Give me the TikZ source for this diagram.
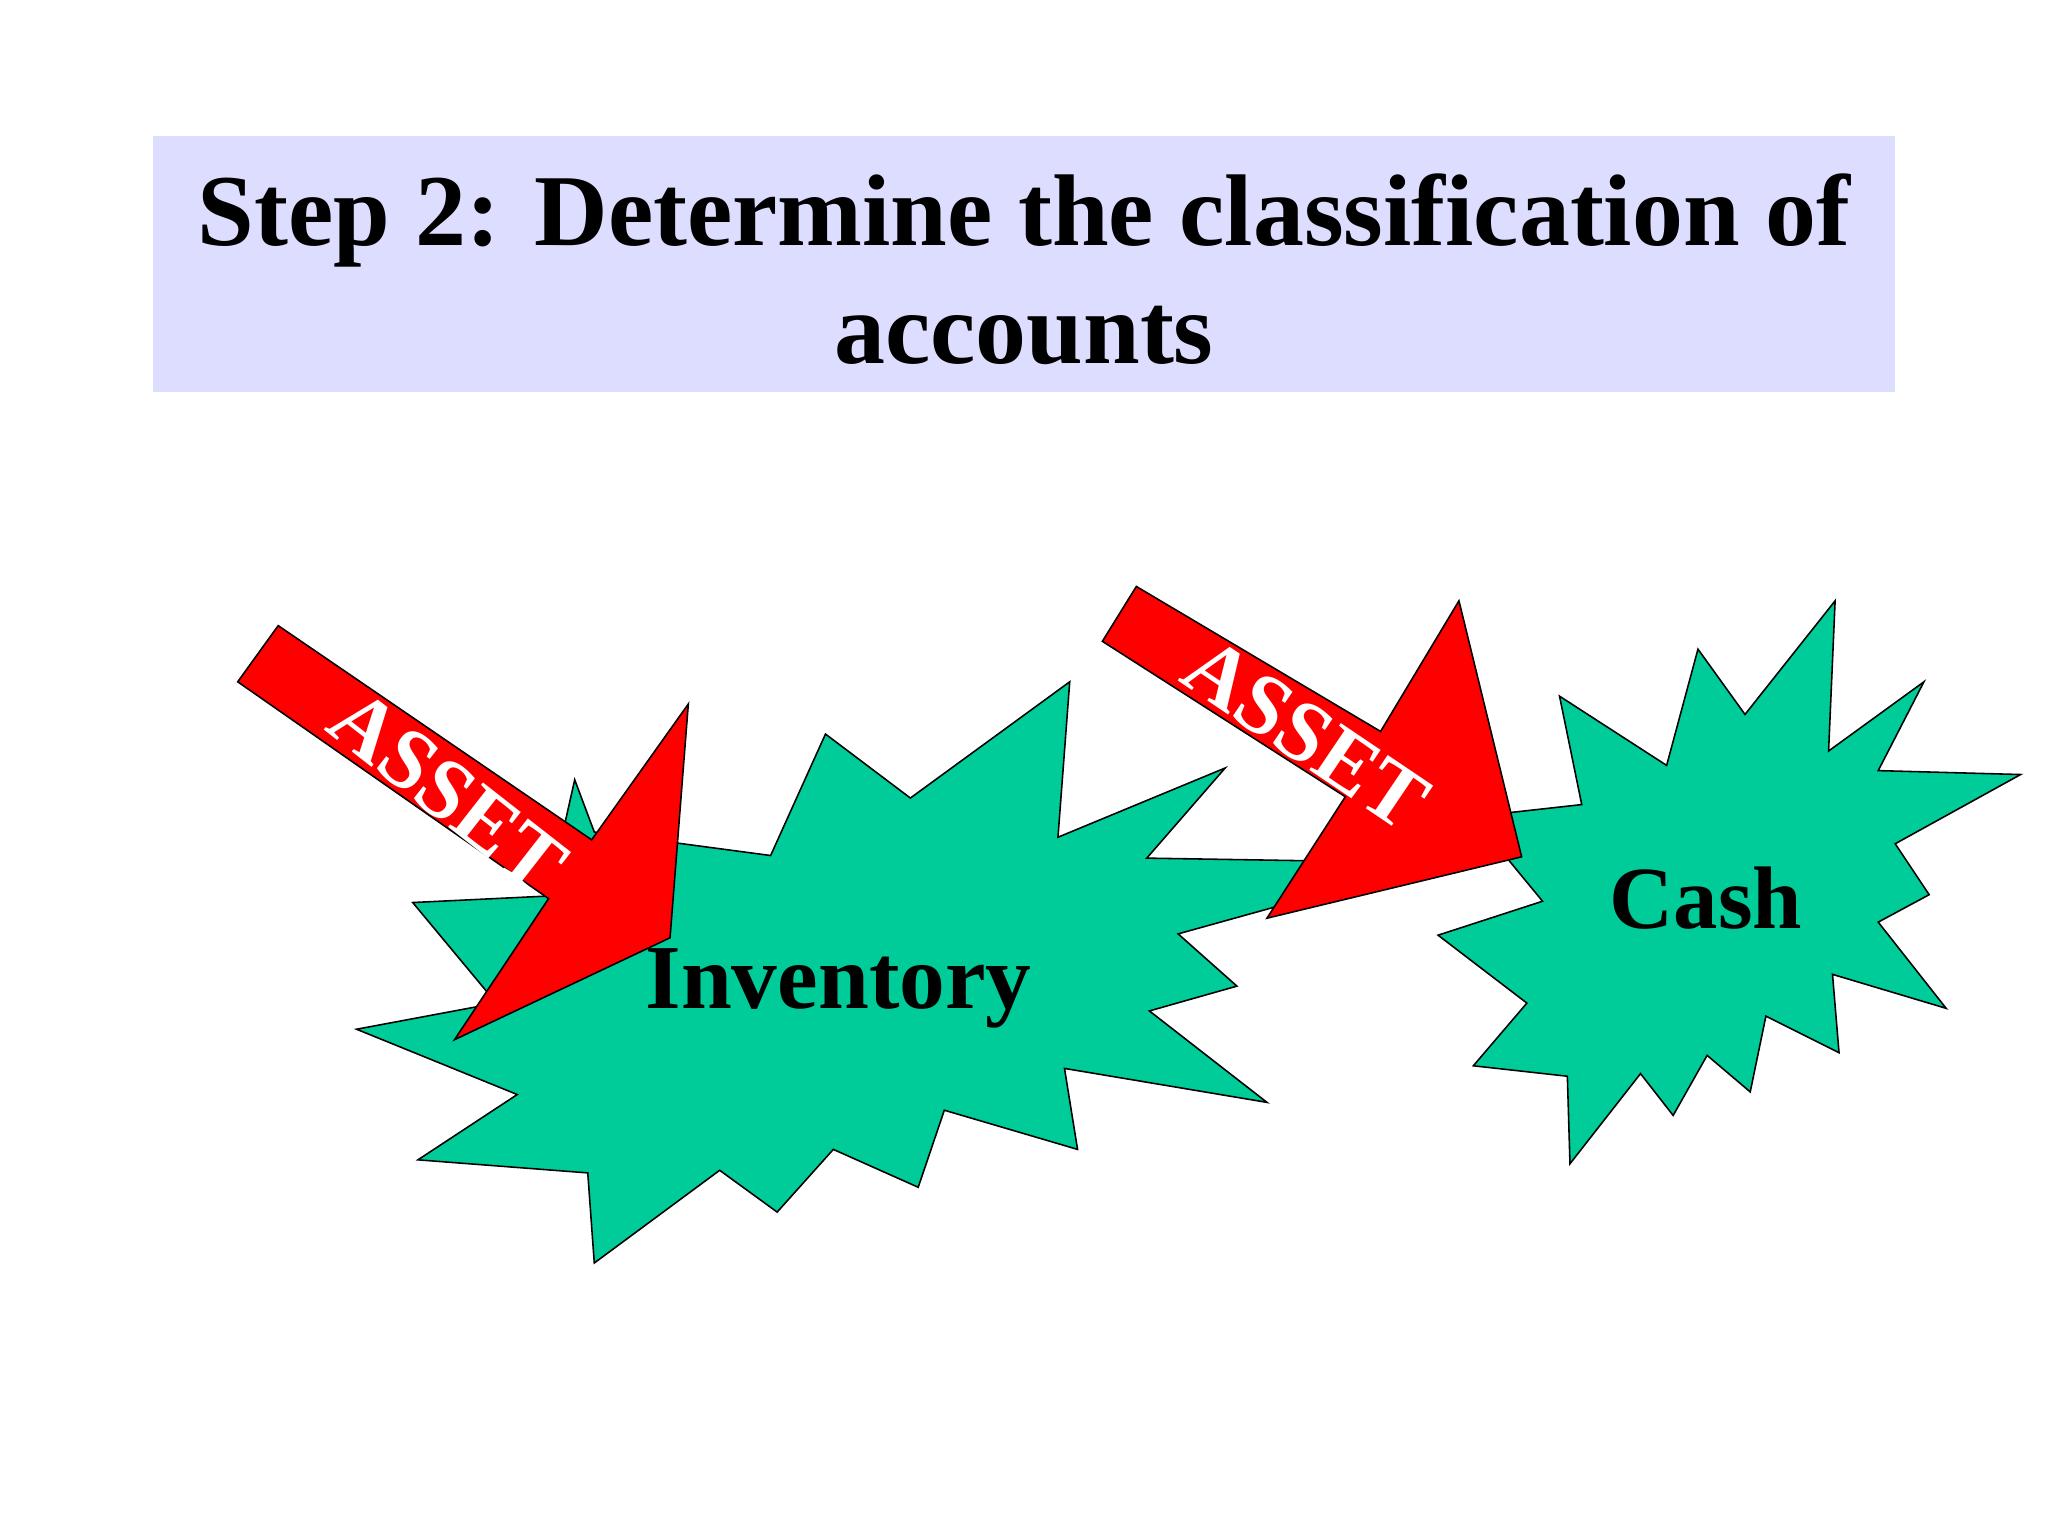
\documentclass[tikz,border=0pt]{standalone}
\usepackage{fontspec}
\setmainfont{Liberation Serif}
\begin{document}
\begin{tikzpicture}[x=0.5pt,y=-0.5pt,
  burst/.style={draw=black,line width=0.6pt},
  redarrow/.style={draw=black,fill=red,line width=0.6pt},
  asset/.style={text=white,font=\bfseries\fontsize{33}{36}\selectfont,inner sep=0pt}]
\useasboundingbox (0,0) rectangle (1568,1176);
\fill[fill={rgb,255:red,221;green,221;blue,255}] (117,104) rectangle (1451,300);
\node[font=\bfseries\fontsize{39}{45}\selectfont,align=center] (title) at (784,206) {Step 2: Determine the classification of\\accounts};
\definecolor{burstc}{RGB}{0,204,153}
% inventory burst
\draw[burst,fill=burstc] (440,597)--(455,637)--(590,655)--(632,562)--(697,611)--(819,522)--(810,641)--(938,588)--(878,657)--(1000,659)--(1010,685)--(902,715)--(947,755)--(880,774)--(970,844)--(815,818)--(825,880)--(723,850)--(703,909)--(638,880)--(595,928)--(551,896)--(455,967)--(450,898)--(320,888)--(396,838)--(273,788)--(380,768)--(316,691)--(420,686)--cycle;
% cash burst
\draw[burst,fill=burstc] (1194,533)--(1211,616)--(1157,622)--(1153,656)--(1181,690)--(1101,716)--(1169,768)--(1128,816)--(1200,824)--(1202,891)--(1256,822)--(1281,854)--(1307,808)--(1340,836)--(1352,778)--(1408,806)--(1403,746)--(1490,772)--(1438,706)--(1477,685)--(1451,646)--(1547,593)--(1438,590)--(1473,522)--(1400,575)--(1405,460)--(1336,547)--(1300,497)--(1276,586)--cycle;
\node[font=\bfseries\fontsize{35}{40}\selectfont] (inv) at (642,757) {Inventory};
\node[font=\bfseries\fontsize{34}{40}\selectfont] (cash) at (1306,688) {Cash};
% arrows
\draw[redarrow] (213,479)--(453,643)--(527,539)--(513,718)--(348,796)--(420,688)--(182,522)--cycle;
\node[asset,rotate=-38] (a1) at (343,606) {ASSET};
\draw[redarrow] (870,449)--(1057,560)--(1117,460)--(1165,656)--(970,703)--(1030,610)--(844,491)--cycle;
\node[asset,rotate=-34] (a2) at (1000,562) {ASSET};
\end{tikzpicture}
\end{document}
